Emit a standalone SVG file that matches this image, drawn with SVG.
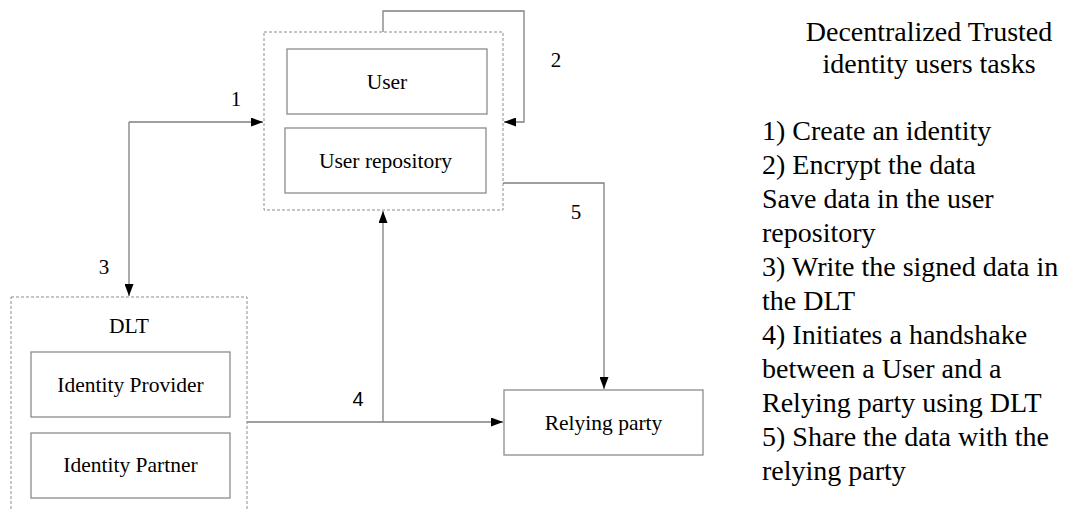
<svg xmlns="http://www.w3.org/2000/svg" width="1069" height="510" viewBox="0 0 1069 510">
  <style>
    .serif { font-family: "Liberation Serif", "Times New Roman", serif; fill: #000; }
    .lbl { font-size: 21.5px; text-anchor: middle; }
    .num { font-size: 21px; text-anchor: middle; }
    .sans { font-family: "Liberation Sans", Arial, sans-serif; font-size: 20px; text-anchor: middle; fill: #000; }
    .box { fill: #fff; stroke: #8c8c8c; stroke-width: 1.3; }
    .group { fill: none; stroke: #8c8c8c; stroke-width: 1; stroke-dasharray: 3 2; }
    .wire { fill: none; stroke: #7f7f7f; stroke-width: 1.3; }
    .side { font-size: 28px; }
  </style>
  <defs>
    <marker id="arrow" markerWidth="12" markerHeight="9" refX="12" refY="4.5" orient="auto" markerUnits="userSpaceOnUse">
      <path d="M0,0 L12,4.5 L0,9 Z" fill="#000"/>
    </marker>
  </defs>
  <rect width="1069" height="510" fill="#fff"/>

  <!-- connectors -->
  <g id="connectors">
    <!-- 1 / 3: DLT <-> User -->
    <path class="wire" d="M129,122 H263" marker-end="url(#arrow)"/>
    <path class="wire" d="M129,122 V296" marker-end="url(#arrow)"/>
    <!-- 2: loop back into user group -->
    <path class="wire" d="M383,32 V11 H524 V122 H504" marker-end="url(#arrow)"/>
    <!-- 4: DLT to relying party, branch up to user -->
    <path class="wire" d="M247,422 H503" marker-end="url(#arrow)"/>
    <path class="wire" d="M383,422 V211" marker-end="url(#arrow)"/>
    <!-- 5: user repository to relying party -->
    <path class="wire" d="M503,183 H604 V389" marker-end="url(#arrow)"/>
    <text class="serif num" x="236" y="106">1</text>
    <text class="serif num" x="556" y="67">2</text>
    <text class="serif num" x="104" y="274">3</text>
    <text class="sans" x="358" y="406">4</text>
    <text class="serif num" x="576" y="219">5</text>
  </g>

  <!-- user side -->
  <g id="user-group">
    <rect class="group" x="264" y="32" width="239" height="178"/>
  </g>
  <g id="user">
    <rect class="box" x="287" y="49" width="200" height="65"/>
    <text class="serif lbl" x="387" y="89">User</text>
  </g>
  <g id="user-repository">
    <rect class="box" x="285" y="128" width="201" height="65"/>
    <text class="serif lbl" x="385.5" y="168">User repository</text>
  </g>

  <!-- DLT side -->
  <g id="dlt">
    <rect class="group" x="11" y="297" width="236" height="230"/>
    <text class="serif lbl" x="129" y="333">DLT</text>
  </g>
  <g id="identity-provider">
    <rect class="box" x="31" y="352" width="199" height="65"/>
    <text class="serif lbl" x="130.5" y="392">Identity Provider</text>
  </g>
  <g id="identity-partner">
    <rect class="box" x="31" y="433" width="199" height="65"/>
    <text class="serif lbl" x="130.5" y="472">Identity Partner</text>
  </g>

  <g id="relying-party">
    <rect class="box" x="504" y="390" width="199" height="65"/>
    <text class="serif lbl" x="603.5" y="430">Relying party</text>
  </g>

  <!-- task list -->
  <g id="tasks">
    <text class="serif side" x="929" y="41" text-anchor="middle">Decentralized Trusted</text>
    <text class="serif side" x="929" y="73" text-anchor="middle">identity users tasks</text>
    <text class="serif side" x="762" y="140">1) Create an identity</text>
    <text class="serif side" x="762" y="174">2) Encrypt the data</text>
    <text class="serif side" x="762" y="208">Save data in the user</text>
    <text class="serif side" x="762" y="242">repository</text>
    <text class="serif side" x="762" y="276">3) Write the signed data in</text>
    <text class="serif side" x="762" y="310">the DLT</text>
    <text class="serif side" x="762" y="344">4) Initiates a handshake</text>
    <text class="serif side" x="762" y="378">between a User and a</text>
    <text class="serif side" x="762" y="412">Relying party using DLT</text>
    <text class="serif side" x="762" y="446">5) Share the data with the</text>
    <text class="serif side" x="762" y="480">relying party</text>
  </g>
</svg>
